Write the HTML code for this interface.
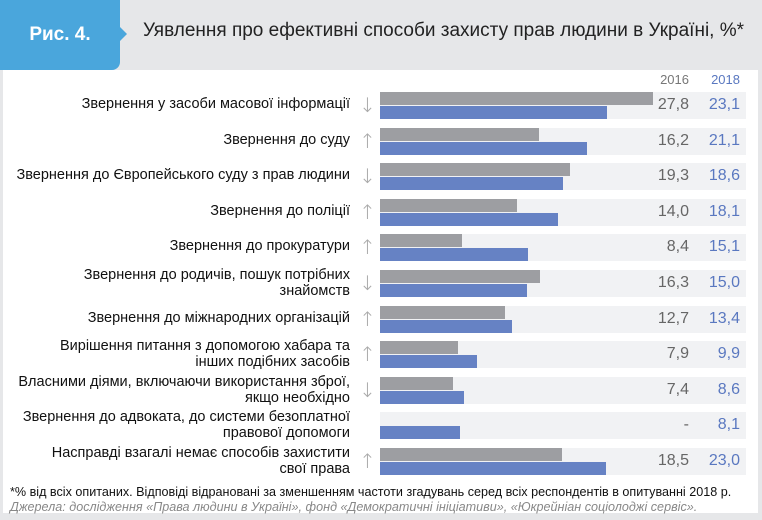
<!DOCTYPE html>
<html><head><meta charset="utf-8"><style>
body{margin:0;width:762px;height:520px;background:#e6e7e9;font-family:"Liberation Sans",sans-serif;overflow:hidden;position:relative}
#panel{position:absolute;left:3px;top:70px;width:755px;height:443px;background:#fff}
#badge{position:absolute;left:0;top:0;width:120px;height:70px;background:#4aa6dc;border-bottom-right-radius:8px;color:#fff;font-weight:bold;font-size:19px;line-height:70px;text-align:center}
#badge:after{content:"";position:absolute;right:-7px;top:27px;border-left:7px solid #4aa6dc;border-top:7px solid transparent;border-bottom:7px solid transparent}
#title{position:absolute;left:143px;top:20px;font-size:19px;color:#222}
.lbl{position:absolute;right:412px;text-align:right;font-size:14.5px;color:#111;line-height:16px;white-space:nowrap}
.arr{position:absolute;left:359px;font-size:20px;color:#aaa;font-family:"DejaVu Sans",sans-serif;font-weight:200}
.v{position:absolute;font-size:16px;text-align:right;width:50px}
.foot{position:absolute;left:10px;font-size:12.6px;color:#111;white-space:nowrap}
</style></head><body>
<div id="panel"></div>
<div id="badge">Рис. 4.</div>
<div id="title">Уявлення про ефективні способи захисту прав людини в Україні, %*</div>
<div class="v" style="left:639px;top:72px;color:#777;font-size:13px">2016</div>
<div class="v" style="left:690px;top:72px;color:#5a78c0;font-size:13px">2018</div>
<div id="chart"></div>
<div class="foot" style="top:485px">*% від всіх опитаних. Відповіді відрановані за зменшенням частоти згадувань серед всіх респондентів в опитуванні 2018 р.</div>
<div class="foot" style="top:500px;color:#888;font-style:italic">Джерела: дослідження «Права людини в Україні», фонд «Демократичні ініціативи», «Юкрейніан соціолоджі сервіс».</div>
<script>
const categories=["Звернення у засоби масової інформації","Звернення до суду","Звернення до Європейського суду з прав людини","Звернення до поліції","Звернення до прокуратури","Звернення до родичів, пошук потрібних<br>знайомств","Звернення до міжнародних організацій","Вирішення питання з допомогою хабара та<br>інших подібних засобів","Власними діями, включаючи використання зброї,<br>якщо необхідно","Звернення до адвоката, до системи безоплатної<br>правової допомоги","Насправді взагалі немає способів захистити<br>свої права"];
const values2016=[27.8,16.2,19.3,14.0,8.4,16.3,12.7,7.9,7.4,null,18.5];
const values2018=[23.1,21.1,18.6,18.1,15.1,15.0,13.4,9.9,8.6,8.1,23.0];
const trends=["↓","↑","↓","↑","↑","↓","↑","↑","↓","","↑"];
const c=document.getElementById('chart');
const x=v=>v*9.82, y0=92, pitch=35.6;
const fmt=v=>v==null?'-':v.toFixed(1).replace('.',',');
categories.forEach((cat,i)=>{
 const t=y0+i*pitch;
 const band=document.createElement('div');
 
 
 band.style.cssText=`position:absolute;left:380px;top:${t}px;width:366px;height:27px;background:#f1f2f4`;
 c.appendChild(band);
 if(values2016[i]!=null){
  const b=document.createElement('div');
  
  
  b.style.cssText=`position:absolute;left:380px;top:${t}px;width:${x(values2016[i])}px;height:13px;background:#9d9ea2`;
  c.appendChild(b);
 }
 const b2=document.createElement('div');
 
 
 b2.style.cssText=`position:absolute;left:380px;top:${t+14}px;width:${x(values2018[i])}px;height:13px;background:#6682c4`;
 c.appendChild(b2);
 const l=document.createElement('div');
 
 
 l.className='lbl';
 const multi=cat.includes('<br>');
 l.style.top=(multi?t-3:t+4)+'px';
 l.innerHTML=cat;
 c.appendChild(l);
 const a=document.createElement('div');
 
 
 a.className='arr';a.style.top=(t+1)+'px';a.textContent=trends[i];
 c.appendChild(a);
 const v1=document.createElement('div');
 
 
 v1.className='v';v1.style.cssText+=`left:639px;top:${t+4}px;color:#666`;v1.textContent=fmt(values2016[i]);
 c.appendChild(v1);
 const v2=document.createElement('div');
 
 
 v2.className='v';v2.style.cssText+=`left:690px;top:${t+4}px;color:#5a78c0`;v2.textContent=fmt(values2018[i]);
 c.appendChild(v2);
});
</script>
</body></html>
